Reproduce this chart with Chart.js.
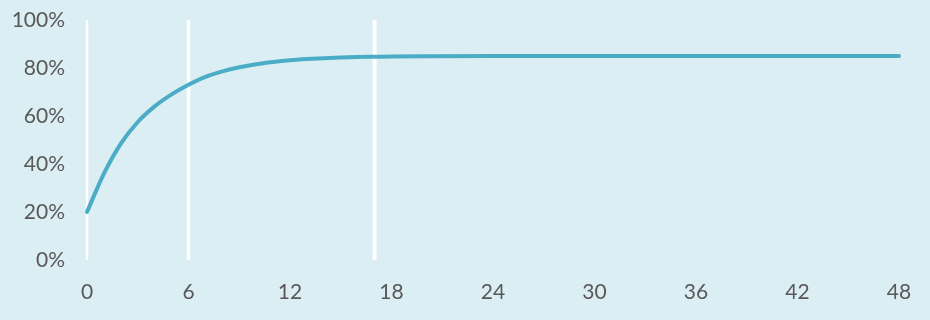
<!DOCTYPE html>
<html>
<head>
<meta charset="utf-8">
<script src="https://cdn.jsdelivr.net/npm/chart.js@4/dist/chart.umd.min.js"></script>
<style>
  html, body { margin: 0; padding: 0; background: #daeef3; }
  #wrap { width: 930px; height: 320px; }
</style>
</head>
<body>
<div id="wrap"><canvas id="chart"></canvas></div>
<script>
// hours on x axis, values in percent
const hours  = [0, 1, 2, 3, 4, 5, 6, 7, 8, 9, 10, 11, 12, 13, 14, 15, 16, 17, 18, 20, 24, 30, 36, 42, 48];
const values = [20, 36, 48.5, 57.5, 64, 69, 73, 76.3, 78.6, 80.3, 81.6, 82.5, 83.2, 83.7, 84.1, 84.4, 84.6, 84.7, 84.8, 84.9, 85, 85, 85, 85, 85];
const guideHours = [0, 6, 17];
const xTicks = [0, 6, 12, 18, 24, 30, 36, 42, 48];
const yTicks = [0, 20, 40, 60, 80, 100];

const guideWidths = [2.5, 3.5, 4];
const tickFont = { family: 'Lato, "Open Sans", sans-serif', size: 21 };

const guideSets = guideHours.map((h, i) => ({
    data: [{ x: h, y: 0 }, { x: h, y: 100 }],
    borderColor: '#ffffff',
    borderWidth: guideWidths[i],
    pointRadius: 0,
    clip: false,
    order: 2,
}));

new Chart(document.getElementById('chart').getContext('2d'), {
    type: 'line',
    data: {
        datasets: [
            {
                data: hours.map((h, i) => ({ x: h, y: values[i] })),
                borderColor: '#4bacc6',
                borderWidth: 4,
                pointRadius: 0,
                cubicInterpolationMode: 'monotone',
                borderCapStyle: 'round',
                clip: false,
                order: 1,
            },
            ...guideSets
        ]
    },
    options: {
        responsive: true,
        maintainAspectRatio: false,
        animation: false,
        layout: { padding: { top: 20, right: 31, bottom: 0, left: 0 } },
        plugins: { legend: { display: false }, tooltip: { enabled: false } },
        scales: {
            x: {
                type: 'linear',
                min: 0,
                max: 48,
                grid: { display: false },
                border: { display: false },
                afterBuildTicks: s => { s.ticks = xTicks.map(v => ({ value: v })); },
                afterFit: s => { s.height = 60; },
                ticks: { color: '#595959', font: tickFont, padding: 12, maxRotation: 0, autoSkip: false },
            },
            y: {
                min: 0,
                max: 100,
                grid: { display: false },
                border: { display: false },
                afterBuildTicks: s => { s.ticks = yTicks.map(v => ({ value: v })); },
                afterFit: s => { s.width = 87; s.paddingTop = 0; s.paddingBottom = 0; },
                ticks: { color: '#595959', font: tickFont, padding: 14, callback: v => v + '%' },
            }
        }
    }
});
</script>
</body>
</html>
